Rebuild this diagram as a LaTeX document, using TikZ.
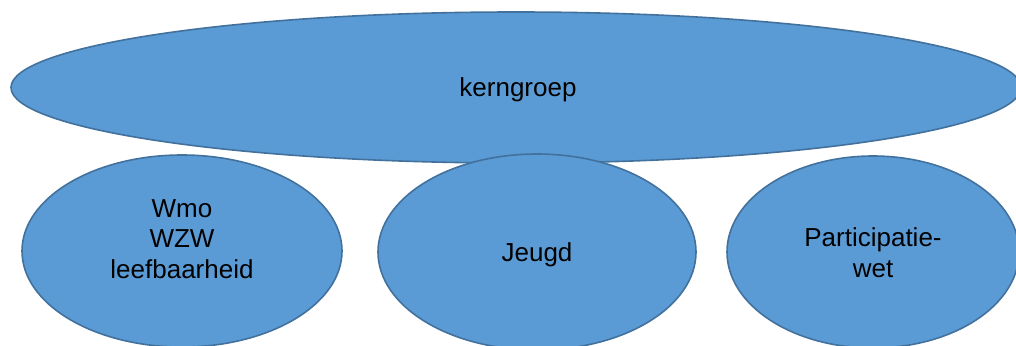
\documentclass[tikz,border=0pt]{standalone}
\usepackage{fontspec}
\setmainfont{Liberation Sans}
\usetikzlibrary{shapes.geometric}
\definecolor{ellfill}{HTML}{5B9BD5}
\definecolor{elldraw}{HTML}{41719C}
\tikzset{
  ell/.style={ellipse, fill=ellfill, draw=elldraw, line width=1.6pt, inner sep=0pt},
  txt/.style={align=center, inner sep=0pt, font=\fontsize{26}{30.7}\selectfont}
}
\begin{document}
\begin{tikzpicture}[x=1pt,y=-1pt]
\useasboundingbox (0,0) rectangle (1016,345);
\begin{scope}
\clip (0,0) rectangle (1016,345);
\node[ell, minimum width=1010pt, minimum height=151pt] (kern) at (516,87.5) {};
\node[ell, minimum width=320pt, minimum height=192pt] (wmo) at (182,251) {};
\node[ell, minimum width=318pt, minimum height=196pt] (jeugd) at (537,252) {};
\node[ell, minimum width=292pt, minimum height=192pt] (part) at (873,252) {};
\end{scope}
\node[txt] (kernT) at (518,89.5) {kerngroep};
\node[txt] (wmoT) at (182,239) {Wmo\\WZW\\leefbaarheid};
\node[txt] (jeugdT) at (537,254.5) {Jeugd};
\node[txt] (partT) at (873,253) {Participatie-\\wet};
\end{tikzpicture}
\end{document}
